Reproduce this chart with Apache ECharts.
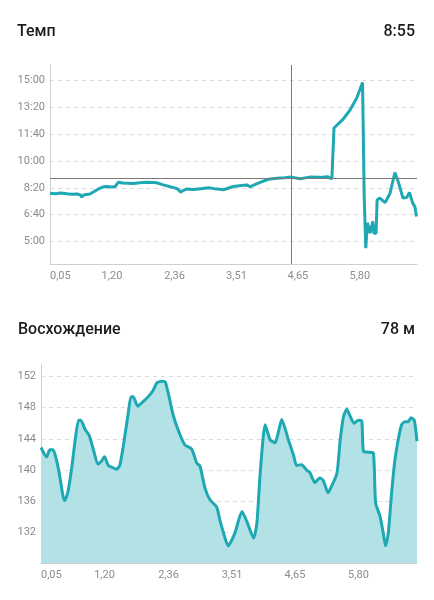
<!DOCTYPE html>
<html>
<head>
<meta charset="utf-8">
<script src="https://cdn.jsdelivr.net/npm/echarts@6/dist/echarts.min.js"></script>
<style>
html,body{margin:0;padding:0;background:#fff;}
#chart{width:434px;height:600px;}
</style>
</head>
<body>
<div id="chart"></div>
<script>
// ---- Data ----
const paceTitle = "Темп";
const paceSummary = "8:55";
const climbTitle = "Восхождение";
const climbSummary = "78 м";

const xTickLabels = [0.05, 1.20, 2.36, 3.51, 4.65, 5.80];
const paceTicks = [300, 400, 500, 600, 700, 800, 900];
const elevTicks = [132, 136, 140, 144, 148, 152];

const paceAverage = 535;     // 8:55 in seconds per km
const selectedDistance = 4.53;

const paceDistance = [0.05,0.15,0.25,0.36,0.45,0.55,0.61,0.64,0.67,0.79,0.90,0.98,1.05,1.10,1.20,1.26,1.32,1.40,1.50,1.60,1.72,1.84,1.95,2.03,2.15,2.28,2.38,2.43,2.47,2.52,2.59,2.71,2.85,2.99,3.10,3.20,3.27,3.45,3.60,3.70,3.76,3.85,3.95,4.10,4.26,4.40,4.53,4.69,4.87,5.06,5.21,5.28,5.32,5.49,5.62,5.74,5.85,5.88,5.91,5.94,5.99,6.04,6.06,6.10,6.12,6.17,6.27,6.36,6.45,6.51,6.60,6.67,6.72,6.78,6.82,6.85];
const paceSeconds  = [480,478,481,478,476,477,474,465,473,477,490,499,504,505,503,505,521,518,517,516,519,521,520,519,511,504,499,494,484,490,496,494,497,500,497,495,493,505,509,511,504,512,520,532,536,538,540,534,540,539,541,533,723,756,791,834,893,468,275,369,331,375,331,331,455,462,445,480,557,524,462,464,483,443,430,393];

const elevDistance = [0.05,0.15,0.21,0.27,0.33,0.39,0.45,0.48,0.54,0.61,0.67,0.73,0.77,0.85,0.92,1.00,1.08,1.14,1.20,1.27,1.36,1.42,1.48,1.55,1.63,1.68,1.72,1.80,1.84,1.99,2.08,2.15,2.25,2.30,2.36,2.45,2.57,2.66,2.78,2.87,2.93,3.02,3.11,3.23,3.29,3.35,3.44,3.56,3.69,3.78,3.90,3.96,4.02,4.11,4.20,4.29,4.35,4.41,4.53,4.62,4.68,4.77,4.86,4.92,5.01,5.10,5.16,5.25,5.31,5.41,5.47,5.53,5.59,5.65,5.72,5.80,5.86,5.89,5.98,6.07,6.11,6.19,6.25,6.29,6.34,6.40,6.46,6.52,6.58,6.64,6.70,6.75,6.81,6.86];
const elevMeters   = [142.9,141.7,142.6,142.6,141.3,139.2,136.6,136.1,137.3,140.5,143.9,146.4,146.4,145.2,144.5,142.6,140.8,141.1,141.7,140.6,140.3,140.1,140.7,143.5,147.3,149.4,149.4,148.2,148.4,149.4,150.2,151.2,151.4,151.3,149.7,146.9,144.5,143.2,142.7,140.9,140.5,137.7,136.2,135.3,133.6,132.1,130.3,131.9,134.7,133.4,131.3,133.2,139.6,145.8,143.9,143.5,144.9,146.5,143.9,142.0,140.6,140.7,140.0,139.7,138.4,139.0,138.7,137.1,137.9,139.6,143.9,146.9,147.8,146.9,146.0,146.4,146.3,142.4,142.3,142.2,135.8,134.1,131.9,130.3,131.9,137.1,141.3,143.9,145.8,146.2,146.2,146.7,146.4,143.7];

// ---- Build ----
const paceData = paceDistance.map((d, i) => [d, paceSeconds[i]]);
const elevData = elevDistance.map((d, i) => [d, elevMeters[i]]);

const lineColor = '#1ea8b3';
const fillColor = '#b2e2e5';
const labelColor = '#8c8c8c';
const axisColor = '#cfcfcf';
const gridColor = '#dcdcdc';
const font = 'Roboto, "Noto Sans", sans-serif';

function fmtPace(v) {
  const m = Math.floor(v / 60), s = Math.round(v % 60);
  return m + ':' + (s < 10 ? '0' : '') + s;
}
function fmtDist(v) { return v.toFixed(2).replace('.', ','); }

function xAxisCfg(gridIndex) {
  return {
    type: 'value', gridIndex, min: 0.05, max: 6.86,
    axisLine: { show: true, lineStyle: { color: axisColor, width: 1 } },
    axisTick: { show: false, customValues: xTickLabels },
    splitLine: { show: false },
    axisLabel: {
      customValues: xTickLabels, formatter: fmtDist, color: labelColor,
      fontSize: 11, fontFamily: font, margin: 7, alignMinLabel: 'left'
    }
  };
}
function yAxisCfg(gridIndex, min, max, ticks, formatter) {
  return {
    type: 'value', gridIndex, min, max,
    axisLine: { show: true, lineStyle: { color: axisColor, width: 1 } },
    axisTick: { show: false, customValues: ticks },
    splitLine: { show: true, lineStyle: { color: gridColor, type: [4, 4], width: 1 } },
    axisLabel: { customValues: ticks, formatter, color: labelColor, fontSize: 11, fontFamily: font, margin: 5 }
  };
}

const titleStyle = { fontSize: 16, fontWeight: 500, color: '#1d1d1d', fontFamily: font };

const option = {
  animation: false,
  backgroundColor: '#fff',
  title: [
    { text: paceTitle, left: 17, top: 24, padding: 0, textStyle: titleStyle },
    { text: paceSummary, right: 19, top: 24, padding: 0, textStyle: titleStyle },
    { text: climbTitle, left: 18, top: 322, padding: 0, textStyle: titleStyle },
    { text: climbSummary, right: 19, top: 322, padding: 0, textStyle: titleStyle }
  ],
  grid: [
    { left: 50, right: 17, top: 65, bottom: 336 },
    { left: 41, right: 17, top: 364, bottom: 37 }
  ],
  xAxis: [xAxisCfg(0), xAxisCfg(1)],
  yAxis: [
    yAxisCfg(0, 216, 958, paceTicks, fmtPace),
    yAxisCfg(1, 128.1, 153.6, elevTicks, v => String(Math.round(v)))
  ],
  series: [
    {
      type: 'line', xAxisIndex: 0, yAxisIndex: 0, data: paceData,
      showSymbol: false, silent: true,
      lineStyle: { color: lineColor, width: 3 },
      markLine: {
        silent: true, symbol: 'none', label: { show: false },
        lineStyle: { color: '#7a7a7a', width: 1, type: 'solid' },
        data: [{ yAxis: paceAverage }, { xAxis: selectedDistance }]
      }
    },
    {
      type: 'line', xAxisIndex: 1, yAxisIndex: 1, data: elevData,
      showSymbol: false, silent: true, smooth: 0.2,
      lineStyle: { color: lineColor, width: 3 },
      areaStyle: { color: fillColor, opacity: 1, origin: 'start' }
    }
  ]
};

const chart = echarts.init(document.getElementById('chart'), null, { renderer: 'canvas' });
chart.setOption(option);
</script>
</body>
</html>
